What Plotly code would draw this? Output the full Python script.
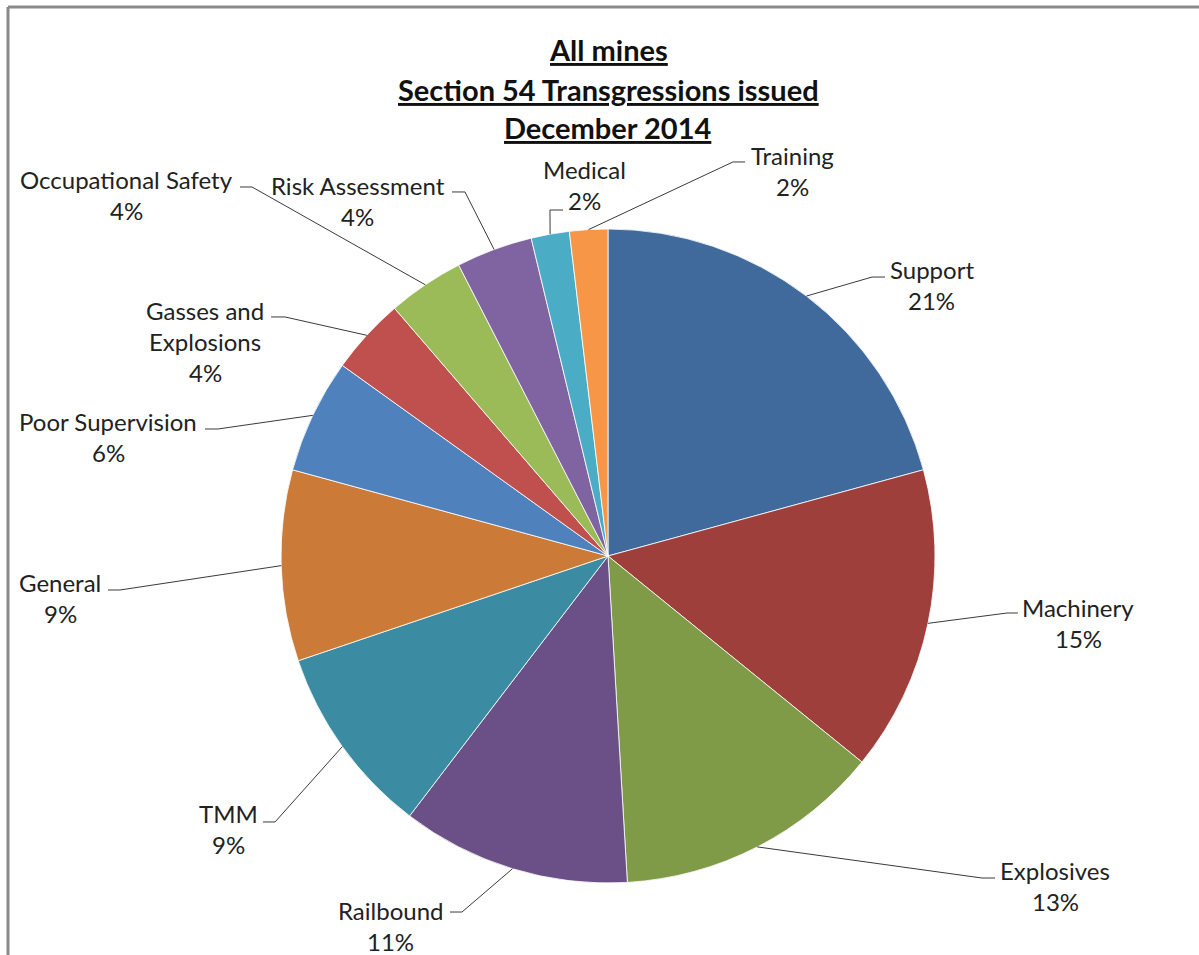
import math
import plotly.graph_objects as go

# ---------------- data ----------------
categories = ["Support", "Machinery", "Explosives", "Railbound", "TMM", "General",
              "Poor Supervision", "Gasses and Explosions", "Occupational Safety",
              "Risk Assessment", "Medical", "Training"]
counts = [11, 8, 7, 6, 5, 5, 3, 2, 2, 2, 1, 1]
colors = ["#3F6A9B", "#9E3F3C", "#7F9B48", "#6A5087", "#3B8CA3", "#CC7A37",
          "#4F81BD", "#C0504D", "#9BBB59", "#8064A2", "#4BACC6", "#F79646"]
title_lines = ["All mines", "Section 54 Transgressions issued", "December 2014"]

# ---------------- layout constants (pixels) ----------------
W, H = 1199, 955
CX, CY, R = 608, 556, 327
FONT = "Lato"
LABEL_SIZE = 24
TITLE_SIZE = 29
LINE_GAP = 31

# text centre x, first-line centre y, elbow point, end of the short horizontal tick
LABEL_LAYOUT = {
    "Support":               dict(tx=932, ty=270, ex=872, ey=277, kx=885),
    "Machinery":             dict(tx=1078, ty=607, ex=1007, ey=613, kx=1018),
    "Explosives":            dict(tx=1055, ty=870, ex=982, ey=878, kx=995),
    "Railbound":             dict(tx=390, ty=910, ex=462, ey=912, kx=450),
    "TMM":                   dict(tx=228, ty=813, ex=275, ey=822, kx=263),
    "General":               dict(tx=60, ty=582, ex=120, ey=590, kx=108),
    "Poor Supervision":      dict(tx=108, ty=422, ex=218, ey=429, kx=205),
    "Gasses and Explosions": dict(tx=205, ty=310, ex=285, ey=317, kx=271),
    "Occupational Safety":   dict(tx=126, ty=180, ex=252, ey=187, kx=240),
    "Risk Assessment":       dict(tx=358, ty=185, ex=465, ey=192, kx=452),
    "Medical":               dict(tx=584, ty=170, ex=550, ey=210, kx=563),
    "Training":              dict(tx=792, ty=155, ex=733, ey=162, kx=745),
}
LINE_WRAP = {"Gasses and Explosions": ["Gasses and", "Explosions"]}


def px(x):
    return x / W


def py(y):
    return 1 - y / H


fig = go.Figure()
fig.add_trace(go.Pie(
    labels=categories,
    values=counts,
    sort=False,
    direction="clockwise",
    rotation=0,
    marker=dict(colors=colors, line=dict(color="rgba(255,255,255,0.8)", width=1)),
    textinfo="none",
    hoverinfo="skip",
    showlegend=False,
    domain=dict(x=[px(CX - R), px(CX + R)], y=[py(CY + R), py(CY - R)]),
))

total = sum(counts)
shapes = []
annotations = []

# leader lines + labels
cum = 0
for name, val in zip(categories, counts):
    mid = (cum + val / 2) / total * 2 * math.pi
    cum += val
    sx = CX + R * math.sin(mid)
    sy = CY - R * math.cos(mid)
    L = LABEL_LAYOUT[name]
    path = "M {:.4f},{:.4f} L {:.4f},{:.4f} L {:.4f},{:.4f}".format(
        px(sx), py(sy), px(L["ex"]), py(L["ey"]), px(L["kx"]), py(L["ey"]))
    shapes.append(dict(type="path", xref="paper", yref="paper", path=path,
                       line=dict(color="#3a3a3a", width=1)))
    pct = "{}%".format(round(100 * val / total))
    lines = LINE_WRAP.get(name, [name]) + [pct]
    for i, t in enumerate(lines):
        annotations.append(dict(
            x=px(L["tx"]), y=py(L["ty"] + i * LINE_GAP), xref="paper", yref="paper",
            text=t, showarrow=False, xanchor="center", yanchor="middle",
            font=dict(family=FONT, size=LABEL_SIZE, color="#222222")))

# title (three underlined bold lines)
title_y = [50, 89, 127]
for t, yy in zip(title_lines, title_y):
    annotations.append(dict(
        x=px(CX), y=py(yy), xref="paper", yref="paper", text="<b>" + t + "</b>",
        showarrow=False, xanchor="center", yanchor="middle",
        font=dict(family=FONT, size=TITLE_SIZE, color="#111111", lineposition="under")))

# chart frame (top and left edges visible)
shapes.append(dict(type="line", xref="paper", yref="paper", x0=px(8), x1=px(W + 5),
                   y0=py(7), y1=py(7), line=dict(color="#8a8a8a", width=3)))
shapes.append(dict(type="line", xref="paper", yref="paper", x0=px(8), x1=px(8),
                   y0=py(7), y1=py(H + 5), line=dict(color="#8a8a8a", width=3)))

fig.update_layout(
    width=W, height=H,
    margin=dict(l=0, r=0, t=0, b=0),
    paper_bgcolor="white", plot_bgcolor="white",
    shapes=shapes, annotations=annotations,
    showlegend=False,
)

fig.write_html("out.html", config={"displayModeBar": False},
               post_script="document.body.style.margin='0px';document.body.style.overflow='hidden';")
